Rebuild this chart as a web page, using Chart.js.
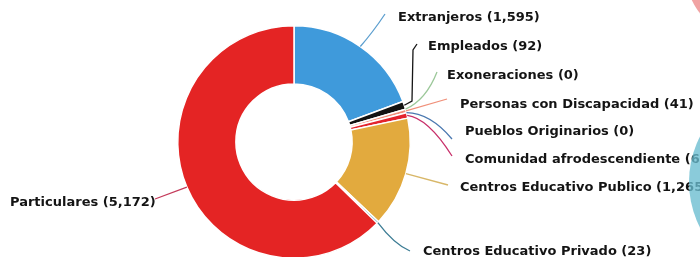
<!DOCTYPE html>
<html><head><meta charset="utf-8">
<script src="https://cdn.jsdelivr.net/npm/chart.js@4/dist/chart.umd.min.js"></script>
<style>
html,body{margin:0;padding:0;background:#fff;overflow:hidden;width:700px;height:257px}
#wrap{position:relative;width:700px;height:280px}
</style>
</head><body><div id="wrap"><canvas id="c"></canvas></div>
<script>
// ---- data ----
const categories = ["Extranjeros","Empleados","Exoneraciones","Personas con Discapacidad","Pueblos Originarios","Comunidad afrodescendiente","Centros Educativo Publico","Centros Educativo Privado","Particulares"];
const values = [1595, 92, 0, 41, 0, 63, 1265, 23, 5172];

// ---- styles ----
const sliceColors = ["#3f9adb","#121212","#8cc56a","#f2907c","#4a7db3","#e3232d","#e2aa3e","#3d8aa3","#e42424"];
const lineColors  = ["#5d9fcf","#151515","#9cc89a","#f0907a","#4a78b0","#c8306a","#d8b768","#3d7d95","#c43a5a"];

// ---- label layout (anchor of text + leader path) ----
const labelLayout = [
  {tx:398, ty:18,  ctrl:[373,32], pts:[[385,14]]},
  {tx:428, ty:47,  ctrl:null, pts:[[412,101],[413,50],[417,44]]},
  {tx:447, ty:76,  ctrl:[426,100], pts:[[437,72]]},
  {tx:460, ty:105, ctrl:null, pts:[[447,99]]},
  {tx:465, ty:132, ctrl:[430,113], pts:[[452,139]]},
  {tx:465, ty:160, ctrl:[428,118], pts:[[452,156]]},
  {tx:460, ty:188, ctrl:null, pts:[[448,185]]},
  {tx:423, ty:252, ctrl:[394,244], pts:[[410,251]]},
  {tx:10,  ty:203, ctrl:null, pts:[[155,199]]}
];

const fmt = v => v.toLocaleString('en-US');

const labelPlugin = {
  id:'labels',
  afterDraw(chart){
    const ctx = chart.ctx;
    const meta = chart.getDatasetMeta(0);
    ctx.save();
    meta.data.forEach((arc, i) => {
      const L = labelLayout[i];
      const mid = (arc.startAngle + arc.endAngle) / 2;
      const sx = arc.x + Math.cos(mid) * arc.outerRadius;
      const sy = arc.y + Math.sin(mid) * arc.outerRadius;
      ctx.beginPath();
      ctx.strokeStyle = lineColors[i];
      ctx.lineWidth = 1.3;
      ctx.moveTo(sx, sy);
      if (L.ctrl) {
        ctx.quadraticCurveTo(L.ctrl[0], L.ctrl[1], L.pts[0][0], L.pts[0][1]);
      } else {
        L.pts.forEach(p => ctx.lineTo(p[0], p[1]));
      }
      ctx.stroke();
      ctx.fillStyle = '#141414';
      ctx.font = 'bold 13px "DejaVu Sans"';
      ctx.textAlign = 'left';
      ctx.textBaseline = 'middle';
      ctx.fillText(categories[i] + ' (' + fmt(values[i]) + ')', L.tx, L.ty);
    });
    // fragments of neighbouring content at the right edge
    ctx.fillStyle = 'rgba(105,188,208,0.78)';
    ctx.beginPath(); ctx.arc(789, 182, 100, 0, Math.PI*2); ctx.fill();
    ctx.fillStyle = 'rgba(238,140,140,0.8)';
    ctx.beginPath(); ctx.arc(755, -30, 70, 0, Math.PI*2); ctx.fill();
    ctx.restore();
  }
};

new Chart(document.getElementById('c'), {
  type:'doughnut',
  data:{ labels: categories, datasets:[{ data: values, backgroundColor: sliceColors, borderColor:'#ffffff', borderWidth:1.5 }]},
  options:{
    responsive:true, maintainAspectRatio:false, animation:false,
    cutout:'50%',
    layout:{ padding:{ top:25, left:177, right:289, bottom:21 } },
    plugins:{ legend:{display:false}, tooltip:{enabled:false} }
  },
  plugins:[labelPlugin]
});
</script>
</body></html>
